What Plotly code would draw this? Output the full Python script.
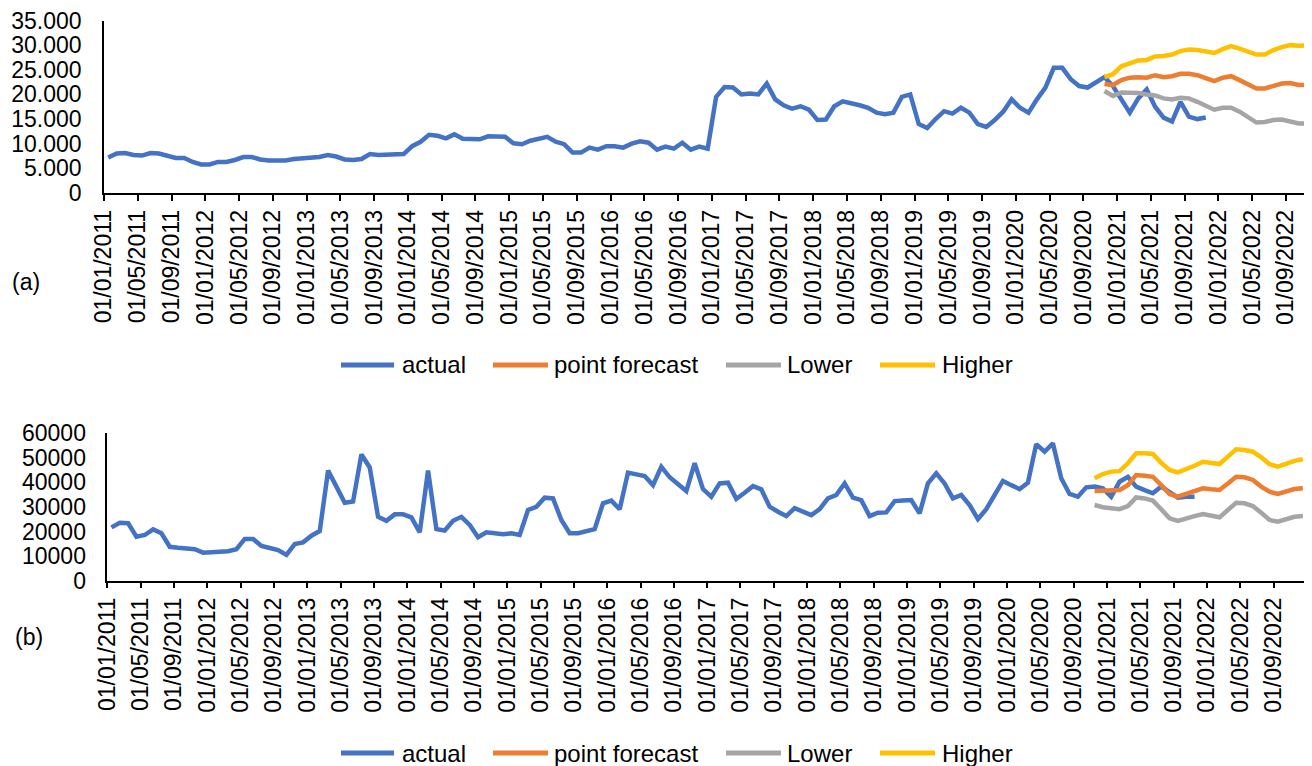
import numpy as np
import pandas as pd
import plotly.graph_objects as go

# ---------------- data ----------------
months = pd.date_range("2011-01-01", "2022-12-01", freq="MS")
tick_labels = [f"01/{m:02d}/{y}" for y in range(2011, 2023) for m in (1, 5, 9)]
forecast_start = "2020-11-01"

# (a) values
a_actual = [7200, 8000, 8100, 7700, 7600, 8100, 8000, 7600, 7100, 7100, 6300, 5800,
            5800, 6300, 6300, 6700, 7300, 7300, 6800, 6600, 6600, 6600, 6900, 7000,
            7100, 7300, 7700, 7400, 6800, 6700, 6900, 7900, 7700, 7700, 7900, 7900,
            9500, 10400, 11800, 11600, 11100, 11900, 11000, 10900, 10900, 11500, 11400, 11400,
            10100, 9900, 10600, 11100, 11400, 10400, 9900, 8200, 8200, 9200, 8800, 9500,
            9500, 9200, 10000, 10500, 10200, 8800, 9400, 9000, 10200, 8800, 9400, 9000,
            19500, 21500, 21400, 20000, 20200, 20000, 22200, 19000, 17800, 17100, 17600, 16900,
            14800, 14900, 17600, 18600, 18300, 17800, 17300, 16300, 16000, 16300, 19500, 20000,
            14000, 13200, 15000, 16600, 16100, 17300, 16300, 14000, 13400, 14800, 16500, 19000,
            17300, 16300, 19000, 21400, 25400, 25400, 23100, 21700, 21400, 22400, 23500, 21700,
            19200, 16300, 19200, 21000, 17500, 15300, 14500, 18500, 15500, 15000, 15300]
a_point = [22100, 21900, 22900, 23400, 23500, 23400, 23900, 23500, 23700, 24200, 24200, 23900,
           23300, 22700, 23400, 23700, 22900, 22100, 21200, 21200, 21700, 22200, 22300, 21900,
           21900, 21900]
a_lower = [20700, 19700, 20400, 20400, 20300, 20000, 19800, 19200, 19000, 19300, 19200, 18500,
           17600, 16900, 17300, 17300, 16500, 15400, 14300, 14400, 14800, 14900, 14600, 14100,
           14100, 14100]
a_higher = [23500, 24100, 25700, 26400, 26900, 27000, 27700, 27800, 28100, 28800, 29100, 29000,
            28800, 28400, 29200, 29800, 29300, 28600, 28100, 28100, 29000, 29600, 30000, 29900,
            30000, 30000]

# (b) values
b_actual = [21700, 23600, 23400, 17900, 18600, 20900, 19300, 13800, 13400, 13200, 12800, 11400,
            11500, 11500, 12000, 12800, 17000, 17000, 14100, 13300, 12500, 10500, 14900, 15600,
            18300, 20200, 44800, 38300, 31700, 32200, 51400, 46100, 26000, 24400, 27000, 27000,
            25800, 19700, 44800, 21000, 20400, 24400, 26000, 22700, 17700, 19700, 19300, 18900,
            19300, 18600, 28800, 30100, 33800, 33500, 24700, 19300, 19300, 20200, 21000, 31500,
            32600, 29100, 44000, 43300, 42600, 38900, 46400, 42100, 39400, 36500, 47800, 37300,
            34200, 39600, 39900, 33300, 35800, 38500, 37200, 30100, 28100, 26300, 29500, 28100,
            26700, 29100, 33500, 34900, 39600, 33800, 32800, 26300, 27700, 27800, 32400, 32600,
            32800, 27400, 39600, 43700, 39600, 33500, 34900, 30800, 25100, 29100, 35300, 40600,
            38900, 37300, 39900, 55600, 52500, 55900, 41700, 35300, 34200, 38000, 38300, 37600,
            34200, 40300, 42300, 38300, 36900, 35600, 38300, 36200, 33800, 34200, 34200]
b_point = [36500, 36500, 36600, 36900, 38900, 43000, 42700, 42300, 38900, 35300, 34200, 35300,
           36600, 37600, 37200, 36900, 39600, 42300, 42100, 41000, 38300, 36200, 35300, 36200,
           37300, 37600]
b_lower = [30800, 29900, 29500, 29100, 30400, 33900, 33500, 32600, 29100, 25400, 24300, 25400,
           26300, 27100, 26300, 25800, 28800, 31700, 31500, 30400, 27700, 24700, 24000, 25100,
           26000, 26300]
b_higher = [41700, 43400, 44400, 44600, 47800, 51900, 51900, 51600, 48000, 45100, 44100, 45300,
            46800, 48400, 48000, 47500, 50500, 53500, 53200, 52500, 50200, 47400, 46400, 47500,
            48800, 49400]

series_names = ["actual", "point forecast", "Lower", "Higher"]
colors = ["#4472C4", "#ED7D31", "#A5A5A5", "#FFC000"]

# ---------------- positions on category axis ----------------
pos = np.arange(len(months)) + 0.5          # category centres
fs = months.get_loc(pd.Timestamp(forecast_start))
tickvals = np.arange(0, len(months), 4)

# page has an 8px body margin: size the figure so it fits the 1312x766 window
OFF = 8
W, H = 1312 - OFF, 766 - OFF


def px(x):   # window pixel x -> paper fraction
    return (x - OFF) / W


def py(y):   # window pixel y -> paper fraction
    return 1 - (y - OFF) / H


FONT = "Liberation Sans, Arial, sans-serif"
LW = 4.5

fig = go.Figure()


def add_panel(actual, point, lower, higher, xa, ya):
    data = [actual, point, lower, higher]
    for i, (name, vals) in enumerate(zip(series_names, data)):
        start = 0 if i == 0 else fs
        xs = pos[start:start + len(vals)]
        fig.add_trace(go.Scatter(
            x=xs, y=vals, mode="lines", name=name,
            line=dict(color=colors[i], width=LW, shape="linear"),
            xaxis=xa, yaxis=ya, showlegend=False, hoverinfo="skip"))


add_panel(a_actual, a_point, a_lower, a_higher, "x", "y")
add_panel(b_actual, b_point, b_lower, b_higher, "x2", "y2")

axis_common = dict(showgrid=False, zeroline=False, showline=True, automargin=False,
                   linecolor="black", linewidth=1.5, ticklabeloverflow="allow")
xtick_font = dict(family=FONT, size=23, color="black")
ytick_font = dict(family=FONT, size=23, color="black")

fig.update_layout(
    width=W, height=H,
    margin=dict(l=0, r=0, t=0, b=0, autoexpand=False),
    paper_bgcolor="white", plot_bgcolor="white",
    separators=",.",
    font=dict(family=FONT, color="black"),
    showlegend=False,
    xaxis=dict(**axis_common, domain=[px(104), 1.0], range=[0, 143.08],
               tickmode="array", tickvals=tickvals, ticktext=tick_labels,
               tickangle=-90, ticks="outside", ticklen=6, tickwidth=1.5, tickcolor="black",
               tickfont=xtick_font, anchor="y"),
    yaxis=dict(**axis_common, domain=[py(193), py(20.5)], range=[0, 35000],
               dtick=5000, tickformat=",d", ticks="", tickfont=ytick_font,
               ticklabelstandoff=16, anchor="x"),
    xaxis2=dict(**axis_common, domain=[px(107.3), px(1307)], range=[0, 144],
                tickmode="array", tickvals=list(tickvals) + [144],
                ticktext=tick_labels + [""],
                tickangle=-90, ticks="outside", ticklen=6, tickwidth=1.5, tickcolor="black",
                tickfont=xtick_font, anchor="y2"),
    yaxis2=dict(**axis_common, domain=[py(580.7), py(433.3)], range=[0, 60000],
                dtick=10000, tickformat="d", ticks="", tickfont=ytick_font,
                ticklabelstandoff=15, anchor="x2"),
)

# ---------------- legends (Excel-style, one under each panel) ----------------
legend_line_x = [(341, 394), (493, 548), (726, 781), (880, 935)]
legend_text_x = [400, 552, 785, 940]
for ly in (365, 753):
    for i, name in enumerate(series_names):
        x0, x1 = legend_line_x[i]
        fig.add_shape(type="line", xref="paper", yref="paper",
                      x0=px(x0), x1=px(x1), y0=py(ly), y1=py(ly),
                      line=dict(color=colors[i], width=LW + 0.5))
        fig.add_annotation(text=name, x=px(legend_text_x[i]), y=py(ly),
                           xref="paper", yref="paper", xanchor="left", yanchor="middle",
                           showarrow=False, font=dict(family=FONT, size=24, color="black"))

fig.add_annotation(text="(a)", x=px(26), y=py(282), xref="paper", yref="paper",
                   xanchor="center", yanchor="middle",
                   showarrow=False, font=dict(family=FONT, size=23, color="black"))
fig.add_annotation(text="(b)", x=px(29), y=py(637), xref="paper", yref="paper",
                   xanchor="center", yanchor="middle",
                   showarrow=False, font=dict(family=FONT, size=23, color="black"))

fig.write_html("out.html")
